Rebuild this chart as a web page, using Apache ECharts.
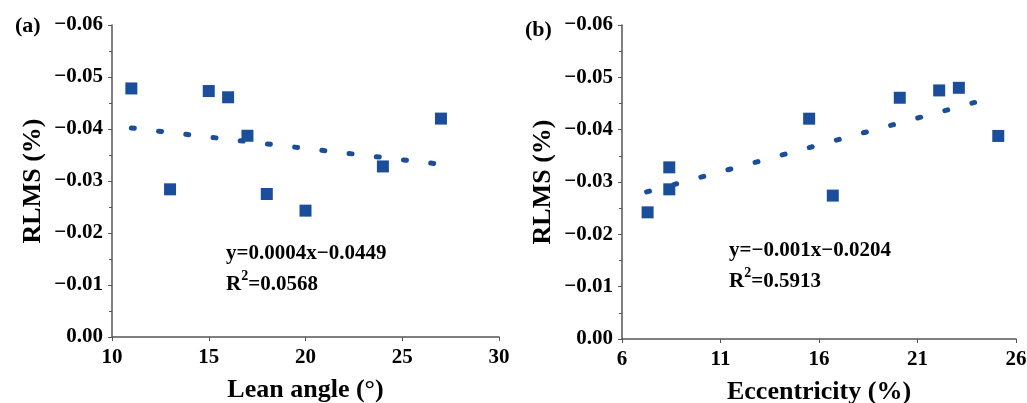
<!DOCTYPE html>
<html>
<head>
    <meta charset="utf-8">
    <title>RLMS</title>
    <script src="https://cdn.jsdelivr.net/npm/echarts@6/dist/echarts.min.js"></script>
    <style>
        html, body { margin: 0; padding: 0; background: #fff; }
        #chart { width: 1027px; height: 403px; }
    </style>
</head>
<body>
<div id="chart"></div>
<script type="text/javascript">
    // 数据
    var rlms = [-0.0478, -0.0284, -0.0473, -0.0461, -0.0387, -0.0275, -0.0243, -0.0328, -0.0420];
    var leanAngle = [11, 13, 15, 16, 17, 18, 20, 24, 27];
    var rlmsB = [-0.0242, -0.0286, -0.0328, -0.0421, -0.0274, -0.0461, -0.0475, -0.0480, -0.0388];
    var eccentricity = [7.3, 8.4, 8.4, 15.5, 16.7, 20.1, 22.1, 23.1, 25.1];
    var trendA = [[11, -0.0402], [26.8, -0.0333]];
    var trendB = [[7.25, -0.0281], [23.9, -0.0452]];
    var eqA = ['y=0.0004x\u22120.0449', '0.0568'];
    var eqB = ['y=\u22120.001x\u22120.0204', '0.5913'];

    var font = 'Liberation Serif';
    var blue = '#1a4e9b';
    var axisColor = '#555';

    function pairs(xs, ys) {
        var out = [];
        for (var i = 0; i < xs.length; i++) out.push([xs[i], ys[i]]);
        return out;
    }

    function yLabel(v) {
        if (Math.abs(v) < 1e-9) return '0.00';
        return (v < 0 ? '\u2212' : '') + Math.abs(v).toFixed(2);
    }

    function xAxisCfg(idx, min, max, name) {
        return {
            gridIndex: idx, type: 'value', min: min, max: max, interval: 5,
            name: name, nameLocation: 'middle', nameGap: 40,
            nameTextStyle: { fontFamily: font, fontWeight: 'bold', fontSize: 26, color: '#000' },
            axisLine: { show: true, lineStyle: { color: axisColor, width: 1.5 } },
            axisTick: { show: true, length: 4, lineStyle: { color: axisColor } },
            axisLabel: { fontFamily: font, fontWeight: 'bold', fontSize: 21, color: '#000', margin: 10 },
            splitLine: { show: false }
        };
    }

    function yAxisCfg(idx) {
        return {
            gridIndex: idx, type: 'value', min: -0.06, max: 0, interval: 0.01, inverse: true,
            name: 'RLMS (%)', nameLocation: 'middle', nameGap: 66,
            nameTextStyle: { fontFamily: font, fontWeight: 'bold', fontSize: 26, color: '#000' },
            axisLine: { show: true, lineStyle: { color: axisColor, width: 1.5 } },
            axisTick: { show: true, length: 4, lineStyle: { color: axisColor } },
            minorTick: { show: true, splitNumber: 2, length: 3, lineStyle: { color: axisColor } },
            axisLabel: { fontFamily: font, fontWeight: 'bold', fontSize: 21, color: '#000', margin: 9, formatter: yLabel },
            splitLine: { show: false }
        };
    }

    function trendSeries(idx, data, gap) {
        return {
            type: 'line', xAxisIndex: idx, yAxisIndex: idx, data: data,
            showSymbol: false, silent: true, z: 1,
            lineStyle: { color: blue, width: 5, type: [3, gap], cap: 'round' }
        };
    }

    function scatterSeries(idx, data) {
        return {
            type: 'scatter', xAxisIndex: idx, yAxisIndex: idx, data: data,
            symbol: 'rect', symbolSize: 12, z: 3,
            itemStyle: { color: blue, opacity: 1 }
        };
    }

    function eqText(left, top, lines) {
        return {
            type: 'text', left: left, top: top,
            style: {
                text: lines[0] + '\n{r|R}{s|2}{r|=' + lines[1] + '}',
                fontFamily: font, fontWeight: 'bold', fontSize: 21, fill: '#000', lineHeight: 31,
                rich: {
                    r: { fontFamily: font, fontWeight: 'bold', fontSize: 21, fill: '#000' },
                    s: { fontFamily: font, fontWeight: 'bold', fontSize: 14, fill: '#000', verticalAlign: 'top', padding: [0, 0, 10, 0] }
                }
            }
        };
    }

    var chart = echarts.init(document.getElementById('chart'));
    chart.setOption({
        animation: false,
        grid: [
            { left: 112, top: 25, width: 387, height: 312, containLabel: false, outerBoundsMode: 'none' },
            { left: 622, top: 25, width: 394, height: 314, containLabel: false, outerBoundsMode: 'none' }
        ],
        xAxis: [xAxisCfg(0, 10, 30, 'Lean angle (\u00b0)'), xAxisCfg(1, 6, 26, 'Eccentricity (%)')],
        yAxis: [yAxisCfg(0), yAxisCfg(1)],
        series: [
            trendSeries(0, trendA, 24.4),
            scatterSeries(0, pairs(leanAngle, rlms)),
            trendSeries(1, trendB, 25.1),
            scatterSeries(1, pairs(eccentricity, rlmsB))
        ],
        graphic: [
            { type: 'text', left: 15, top: 15, style: { text: '(a)', fontFamily: font, fontWeight: 'bold', fontSize: 22, fill: '#000' } },
            { type: 'text', left: 525, top: 19, style: { text: '(b)', fontFamily: font, fontWeight: 'bold', fontSize: 22, fill: '#000' } },
            eqText(226, 238, eqA),
            eqText(729, 235, eqB)
        ]
    });
</script>
</body>
</html>
